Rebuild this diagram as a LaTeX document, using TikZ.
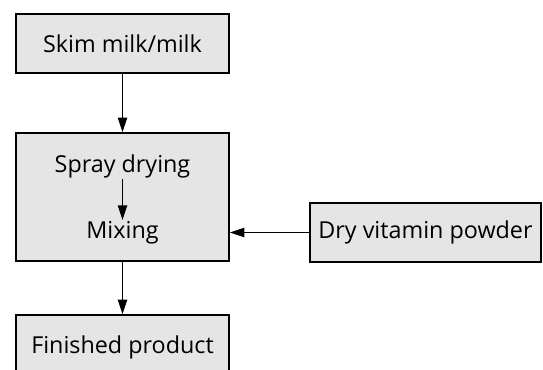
\documentclass[tikz,border=0pt]{standalone}
\usepackage{fontspec}
\setmainfont{Open Sans}
\usetikzlibrary{arrows.meta}
\begin{document}
\begin{tikzpicture}[
    x=0.75pt, y=-0.75pt,
    box/.style={draw, line width=1.1pt, fill=gray!20, inner sep=0pt},
    txt/.style={inner sep=1pt},
    arr/.style={line width=1.1pt, -{Triangle[length=11pt,width=7pt]}},
    font=\fontsize{17.5}{20}\selectfont
    ]
	\clip (0,0) rectangle (543,369);
	\node [box, minimum width=159.75pt, minimum height=44.25pt] (milk) at (122.5,43.5) {Skim milk/milk};
	\node [box, minimum width=159.75pt, minimum height=96pt] (proc) at (122.5,197) {};
	\node [txt] (spray) at (122.5,166) {Spray drying};
	\node [txt] (mix) at (122.5,233) {Mixing};
	\node [box, minimum width=173.25pt, minimum height=44.25pt] (vit) at (425.5,232.5) {Dry vitamin powder};
	\node [box, minimum width=159.75pt, minimum height=48pt] (prod) at (122.5,347) {Finished product};
	% connectors
	\draw [arr] (milk) -- (proc);
	\draw [arr] (spray) -- (mix);
	\draw [arr] (vit.west) -- (vit.west -| proc.east);
	\draw [arr] (proc) -- (prod);
\end{tikzpicture}
\end{document}
